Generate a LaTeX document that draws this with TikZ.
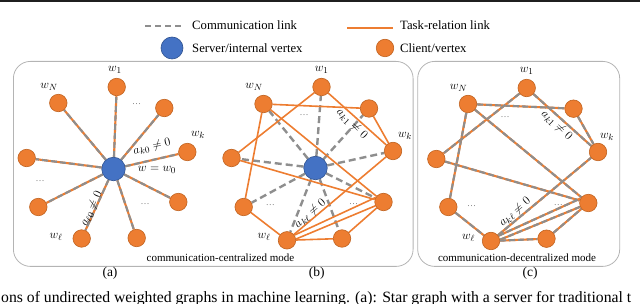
\documentclass[tikz,border=0pt]{standalone}
\usepackage{fontspec}
\setmainfont{Liberation Serif}
\usetikzlibrary{backgrounds}
\definecolor{ofOrange}{HTML}{ED7D31}
\definecolor{ofOrangeD}{HTML}{C0621F}
\definecolor{ofBlue}{HTML}{4472C4}
\definecolor{ofBlueD}{HTML}{2F528F}
\definecolor{linkGray}{HTML}{8E8E8E}
\definecolor{frameGray}{HTML}{B4B4B4}
\begin{document}
\begin{tikzpicture}[x=1pt,y=-1pt,
  client/.style={circle,fill=ofOrange,draw=ofOrangeD,line width=0.6pt,minimum size=17.5pt,inner sep=0pt},
  server/.style={circle,fill=ofBlue,draw=ofBlueD,line width=0.6pt,minimum size=23.5pt,inner sep=0pt},
  wlab/.style={font=\fontsize{13}{15}\selectfont,inner sep=0pt},
  alab/.style={font=\fontsize{12.5}{14}\selectfont,inner sep=0pt},
  dotlab/.style={font=\fontsize{9}{10}\selectfont,text=black!55,inner sep=0pt},
  legtext/.style={font=\fontsize{12.7}{14}\selectfont,inner sep=0pt,anchor=base west},
  modetext/.style={font=\fontsize{11}{13}\selectfont,inner sep=0pt},
  sublab/.style={font=\fontsize{13.5}{15}\selectfont,inner sep=0pt},
  commlink/.style={draw=linkGray,line width=2.4pt,dash pattern=on 7pt off 4pt},
  tasklink/.style={draw=ofOrange,line width=1.6pt},
  bothlink/.style={preaction={draw=ofOrange,line width=2.1pt,solid},draw=linkGray,line width=2.1pt,dash pattern=on 6pt off 3pt},
  frame/.style={draw=frameGray,line width=0.8pt,rounded corners=17pt},
]
\useasboundingbox (0,0) rectangle (640,304);
\fill[black!88] (0,0) rectangle (640,2.3);

% ---------- legend ----------
\coordinate (lgA) at (145,26);
\coordinate (lgB) at (183,26);
\draw[draw=linkGray,line width=1.3pt,dash pattern=on 6pt off 4pt] (lgA) -- (lgB);
\node[legtext] (lgcomm) at (192,30) {Communication link};
\coordinate (ltA) at (347,28);
\coordinate (ltB) at (393,28);
\draw[draw=ofOrange,line width=1.8pt] (ltA) -- (ltB);
\node[legtext] (lgtask) at (400,30) {Task-relation link};
\node[server,minimum size=22pt] (lgserver) at (172,48) {};
\node[legtext] (lgservert) at (192,53) {Server/internal vertex};
\node[client] (lgclient) at (385,48) {};
\node[legtext] (lgclientt) at (400,53) {Client/vertex};

% ---------- panel (a) ----------
\node[server] (a0) at (113.5,169) {};
\node[client] (a1) at (116.7,87) {};
\node[client] (aN) at (58.3,103) {};
\node[client] (aUR) at (164.3,108) {};
\node[client] (ak) at (187.3,152) {};
\node[client] (aL) at (26.7,158) {};
\node[client] (aLL) at (38.3,207) {};
\node[client] (al) at (81.7,238.5) {};
\node[client] (aB) at (136.7,238) {};
\node[client] (aRL) at (178.3,202) {};
\node[wlab] (a1t) at (115,70) {$w_1$};
\node[wlab] (aNt) at (49,87) {$w_N$};
\node[wlab] (akt) at (198,135) {$w_k$};
\node[wlab] (alt) at (56,237) {$w_\ell$};
\node[dotlab] (ad1) at (136.7,104) {\dots};
\node[dotlab] (ad2) at (40,181) {\dots};
\node[dotlab] (ad3) at (145,204) {\dots};
\node[alab,rotate=13] (aak) at (152,147) {$a_{k0}\neq 0$};
\node[alab] (aw0) at (157,170) {$w=w_0$};
\node[alab,rotate=65] (aal) at (91.5,209) {$a_{\ell 0}\neq 0$};

% ---------- panel (b) ----------
\node[server] (b0) at (315.5,168) {};
\node[client] (b1) at (321.5,87) {};
\node[client] (bN) at (263.5,104) {};
\node[client] (bUR) at (369,108.5) {};
\node[client] (bk) at (393,151) {};
\node[client] (bL) at (231.5,158) {};
\node[client] (bLL) at (243.7,207) {};
\node[client] (bl) at (287,240.3) {};
\node[client] (bB) at (342,238.5) {};
\node[client] (bRL) at (383.5,202) {};
\node[wlab] (b1t) at (321.7,70) {$w_1$};
\node[wlab] (bNt) at (254,87) {$w_N$};
\node[wlab] (bkt) at (405,136) {$w_k$};
\node[wlab] (blt) at (264,237) {$w_\ell$};
\node[dotlab] (bd1) at (304,115.5) {\dots};
\node[dotlab] (bd2) at (270.3,205.3) {\dots};
\node[dotlab] (bd3) at (353.7,203.7) {\dots};
\node[alab,rotate=-44] (bak) at (352,124) {$a_{k1}\neq 0$};
\node[alab,rotate=41] (bal) at (310.3,213.7) {$a_{k\ell}\neq 0$};

% ---------- panel (c) ----------
\node[client] (c1) at (526.7,88) {};
\node[client] (cN) at (468,104) {};
\node[client] (cUR) at (573.5,108.7) {};
\node[client] (ck) at (598,152) {};
\node[client] (cL) at (436.3,159) {};
\node[client] (cLL) at (448.3,207) {};
\node[client] (cl) at (491,241) {};
\node[client] (cB) at (546.5,238.7) {};
\node[client] (cRL) at (588.3,203) {};
\node[wlab] (c1t) at (526.7,71) {$w_1$};
\node[wlab] (cNt) at (458.5,88.3) {$w_N$};
\node[wlab] (ckt) at (607,136.7) {$w_k$};
\node[wlab] (clt) at (468.5,237.7) {$w_\ell$};
\node[dotlab] (cd1) at (505,117) {\dots};
\node[dotlab] (cd2) at (471.7,206) {\dots};
\node[dotlab] (cd3) at (558.3,204.7) {\dots};
\node[alab,rotate=-44] (cak) at (556.7,125.3) {$a_{k1}\neq 0$};
\node[alab,rotate=41] (cal) at (515,212) {$a_{k\ell}\neq 0$};

% ---------- texts ----------
\node[modetext] (modeA) at (220.5,257.5) {communication-centralized mode};
\node[modetext] (modeC) at (517,257.5) {communication-decentralized mode};
\node[sublab] (subA) at (110,273) {(a)};
\node[sublab] (subB) at (316.7,273) {(b)};
\node[sublab] (subC) at (530,273) {(c)};
\node[font=\fontsize{15.7}{18}\selectfont,inner sep=0pt,anchor=base west] (caption) at (1,302.5)
  {ons of undirected weighted graphs in machine learning. (a): Star graph with a server for traditional t};

% ---------- frames and edges (behind nodes) ----------
\begin{scope}[on background layer]
  \node[frame,minimum width=399.7pt,minimum height=205pt,anchor=north west] (frameAB) at (13,61) {};
  \node[frame,minimum width=202pt,minimum height=205pt,anchor=north west] (frameC) at (417.3,61) {};
  % (a) star
  \foreach \n in {a1,aN,aUR,ak,aL,aLL,al,aB,aRL} \draw[bothlink] (a0) -- (\n);
  % (b) communication links
  \foreach \n in {b1,bN,bUR,bk,bL,bLL,bl,bB,bRL} \draw[commlink] (b0) -- (\n);
  % (b) task-relation links
  \draw[tasklink] (bN) -- (bUR);
  \draw[tasklink] (bN) -- (bRL);
  \draw[tasklink] (bN) -- (bLL);
  \draw[tasklink] (b1) -- (bL);
  \draw[tasklink] (b1) -- (bk);
  \draw[tasklink] (bUR) -- (bk);
  \draw[tasklink] (bL) -- (bRL);
  \draw[tasklink] (bLL) -- (bl);
  \draw[tasklink] (bl) -- (bk);
  \draw[tasklink] (bl.35) -- (bRL.150);
  \draw[tasklink] (bl.8) -- (bRL.205);
  \draw[tasklink] (bl) -- (bB);
  \draw[tasklink] (bB) -- (bRL);
  % (c) links
  \draw[bothlink] (cN) -- (cUR);
  \draw[bothlink] (cN) -- (cRL);
  \draw[bothlink] (cN) -- (cLL);
  \draw[bothlink] (c1) -- (cL);
  \draw[bothlink] (c1) -- (ck);
  \draw[bothlink] (cUR) -- (ck);
  \draw[bothlink] (cL) -- (cRL);
  \draw[bothlink] (cLL) -- (cl);
  \draw[bothlink] (cl) -- (ck);
  \draw[bothlink] (cl.35) -- (cRL.150);
  \draw[bothlink] (cl.8) -- (cRL.205);
  \draw[bothlink] (cl) -- (cB);
  \draw[bothlink] (cB) -- (cRL);
\end{scope}
\end{tikzpicture}
\end{document}
